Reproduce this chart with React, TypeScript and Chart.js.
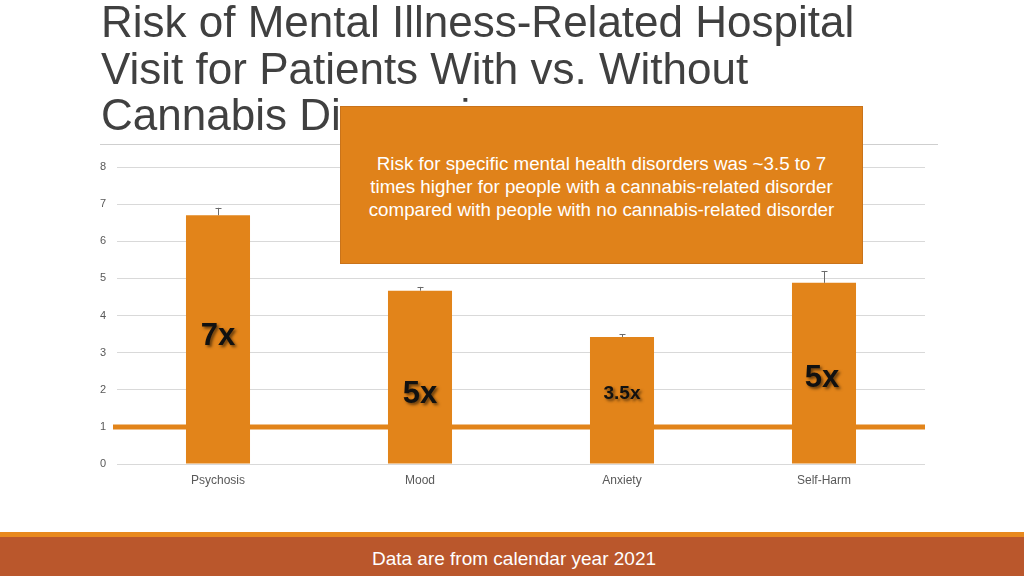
import React, { useEffect, useRef } from "react";
import { Chart, registerables } from "chart.js";

Chart.register(...registerables);

const categories = ["Psychosis", "Mood", "Anxiety", "Self-Harm"];
const riskValues = [6.7, 4.67, 3.42, 4.88];
const errorUpper = [6.9, 4.77, 3.5, 5.2];
const multiplierLabels = ["7x", "5x", "3.5x", "5x"];
const yTicks = [0, 1, 2, 3, 4, 5, 6, 7, 8];
const referenceLevel = 1;

const titleLines = [
  "Risk of Mental Illness-Related Hospital",
  "Visit for Patients With vs. Without",
  "Cannabis Diagnosis",
];
const calloutLines = [
  "Risk for specific mental health disorders was ~3.5 to 7",
  "times higher for people with a cannabis-related disorder",
  "compared with people with no cannabis-related disorder",
];
const footerText = "Data are from calendar year 2021";

const ORANGE = "#E2841A";

// label anchors in value units and font sizes (styling of the in-bar labels)
const labelAnchorValues = [3.43, 1.88, 1.88, 2.3];
const labelFontSizes = [31, 31, 19, 31];

const overlayPlugin = {
  id: "overlay",
  beforeDatasetsDraw(chart: any) {
    const { ctx, chartArea, scales } = chart;
    const y = scales.y.getPixelForValue(referenceLevel);
    ctx.save();
    ctx.strokeStyle = ORANGE;
    ctx.lineWidth = 5;
    ctx.beginPath();
    ctx.moveTo(chartArea.left - 4, y);
    ctx.lineTo(chartArea.right, y);
    ctx.stroke();
    ctx.restore();
  },
  afterDatasetsDraw(chart: any) {
    const { ctx, scales } = chart;
    const meta = chart.getDatasetMeta(0);
    ctx.save();
    // error bars
    ctx.strokeStyle = "#6b6b6b";
    ctx.lineWidth = 1;
    meta.data.forEach((bar: any, i: number) => {
      const x = Math.round(bar.x) + 0.5;
      const yTop = scales.y.getPixelForValue(errorUpper[i]);
      const yBar = scales.y.getPixelForValue(riskValues[i]);
      ctx.beginPath();
      ctx.moveTo(x, yBar);
      ctx.lineTo(x, yTop);
      ctx.moveTo(x - 3, Math.round(yTop) + 0.5);
      ctx.lineTo(x + 3, Math.round(yTop) + 0.5);
      ctx.stroke();
    });
    // multiplier labels
    ctx.textAlign = "center";
    ctx.textBaseline = "middle";
    meta.data.forEach((bar: any, i: number) => {
      const y = scales.y.getPixelForValue(labelAnchorValues[i]);
      ctx.font = `bold ${labelFontSizes[i]}px "Liberation Sans", Arial, sans-serif`;
      ctx.shadowColor = "rgba(0,0,0,0.55)";
      ctx.shadowBlur = 3;
      ctx.shadowOffsetX = 2;
      ctx.shadowOffsetY = 2;
      ctx.fillStyle = "#111111";
      ctx.fillText(multiplierLabels[i], bar.x + (i === 3 ? -2 : 0), y);
    });
    ctx.restore();
  },
};

export default function App() {
  const canvasRef = useRef<HTMLCanvasElement | null>(null);

  useEffect(() => {
    document.body.style.margin = "0";
    const canvas = canvasRef.current;
    if (!canvas) return;
    const chart = new Chart(canvas, {
      type: "bar",
      data: {
        labels: categories,
        datasets: [
          {
            data: riskValues,
            backgroundColor: ORANGE,
            borderWidth: 0,
            categoryPercentage: 1,
            barPercentage: 0.317,
          },
        ],
      },
      options: {
        animation: false,
        responsive: false,
        maintainAspectRatio: false,
        layout: { padding: { left: 17, right: 99, top: 167, bottom: 82 } },
        plugins: {
          legend: { display: false },
          tooltip: { enabled: false },
          title: { display: false },
        },
        scales: {
          x: {
            grid: { display: false, drawTicks: false },
            border: { display: false },
            ticks: {
              color: "#595959",
              padding: 9,
              font: { family: '"Liberation Sans", Arial, sans-serif', size: 12 },
            },
            afterFit: (s: any) => {
              s.height = 30;
            },
          },
          y: {
            min: 0,
            max: 8,
            afterBuildTicks: (s: any) => {
              s.ticks = yTicks.map((v) => ({ value: v }));
            },
            grid: { color: "#d9d9d9", lineWidth: 1, drawTicks: false },
            border: { display: false },
            ticks: {
              color: "#595959",
              padding: 11,
              font: { family: '"Liberation Sans", Arial, sans-serif', size: 11 },
            },
            afterFit: (s: any) => {
              s.width = 100;
            },
          },
        },
      },
      plugins: [overlayPlugin],
    });
    return () => chart.destroy();
  }, []);

  const font = '"Liberation Sans", Arial, sans-serif';

  return (
    <div
      style={{
        position: "relative",
        width: 1024,
        height: 576,
        overflow: "hidden",
        background: "#ffffff",
        fontFamily: font,
      }}
    >
      <canvas
        ref={canvasRef}
        width={1024}
        height={576}
        style={{ position: "absolute", left: 0, top: 0, width: 1024, height: 576 }}
      />
      <div
        style={{
          position: "absolute",
          left: 101,
          top: -1,
          fontSize: 44,
          lineHeight: "46.5px",
          color: "#404040",
          whiteSpace: "nowrap",
        }}
      >
        {titleLines.map((l, i) => (
          <div key={i}>{l}</div>
        ))}
      </div>
      <div
        style={{
          position: "absolute",
          left: 100,
          top: 144,
          width: 838,
          height: 1,
          background: "#cfcfcf",
        }}
      />
      <div
        style={{
          position: "absolute",
          left: 340,
          top: 106,
          width: 523,
          height: 158,
          background: "#E0821A",
          border: "1px solid #C9731A",
          color: "#ffffff",
          fontSize: 18.8,
          lineHeight: "23px",
          textAlign: "center",
          display: "flex",
          flexDirection: "column",
          justifyContent: "flex-start",
          paddingTop: 45,
          boxSizing: "border-box",
          whiteSpace: "nowrap",
        }}
      >
        {calloutLines.map((l, i) => (
          <div key={i}>{l}</div>
        ))}
      </div>
      <div
        style={{
          position: "absolute",
          left: 0,
          top: 532,
          width: 1024,
          height: 5,
          background: "#E8891E",
        }}
      />
      <div
        style={{
          position: "absolute",
          left: 0,
          top: 537,
          width: 1024,
          height: 39,
          background: "#BA572C",
          color: "#ffffff",
          fontSize: 19,
          lineHeight: "39px",
          textAlign: "center",
        }}
      >
        <span style={{ position: "relative", left: 2, top: 2 }}>{footerText}</span>
      </div>
    </div>
  );
}
